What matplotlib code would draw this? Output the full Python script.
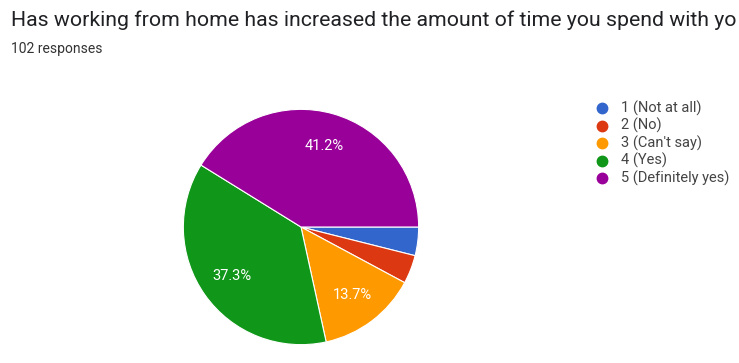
import matplotlib.pyplot as plt
from matplotlib.lines import Line2D

plt.rcParams["font.family"] = ["Roboto", "DejaVu Sans"]

# the question text runs off the right edge, only this part is visible
question = "Has working from home has increased the amount of time you spend with yo"
total = 102
answers = ["1 (Not at all)", "2 (No)", "3 (Can't say)", "4 (Yes)", "5 (Definitely yes)"]
counts = [4, 4, 14, 38, 42]
colors = ["#3366cc", "#dc3912", "#ff9900", "#109618", "#990099"]

W, H = 739, 363
fig = plt.figure(figsize=(W / 100, H / 100), dpi=100)
fig.patch.set_facecolor("white")

fig.text(11 / W, 1 - 20 / H, question, fontsize=15.3, color="#202124", va="center", ha="left")
fig.text(11 / W, 1 - 49 / H, f"{total} responses", fontsize=10, color="#333333", va="center", ha="left")

# pie: centre (301, 227), radius 120 px
cx, cy, r = 301, 227, 120
ax = fig.add_axes([(cx - r) / W, (H - cy - r) / H, 2 * r / W, 2 * r / H])


def pct(p):
    return f"{p:.1f}%" if p > 5 else ""


wedges, texts, autotexts = ax.pie(
    counts, colors=colors, startangle=0, counterclock=False,
    autopct=pct, pctdistance=0.72,
    wedgeprops=dict(edgecolor="white", linewidth=0.8),
    textprops=dict(color="white", fontsize=10.5),
)
ax.set_aspect("equal")
ax.set_xlim(-1.02, 1.02)
ax.set_ylim(-1.02, 1.02)

# legend on the right: dot + label per answer
for i, (lab, c) in enumerate(zip(answers, colors)):
    y = 1 - (108 + i * 17.5) / H
    fig.add_artist(Line2D([602 / W], [y], marker="o", linestyle="", markersize=7.5,
                          markerfacecolor=c, markeredgecolor=c, transform=fig.transFigure))
    fig.text(621 / W, y, lab, fontsize=10.5, color="#444444", va="center", ha="left")

fig.savefig("out.png", dpi=100, facecolor="white")
